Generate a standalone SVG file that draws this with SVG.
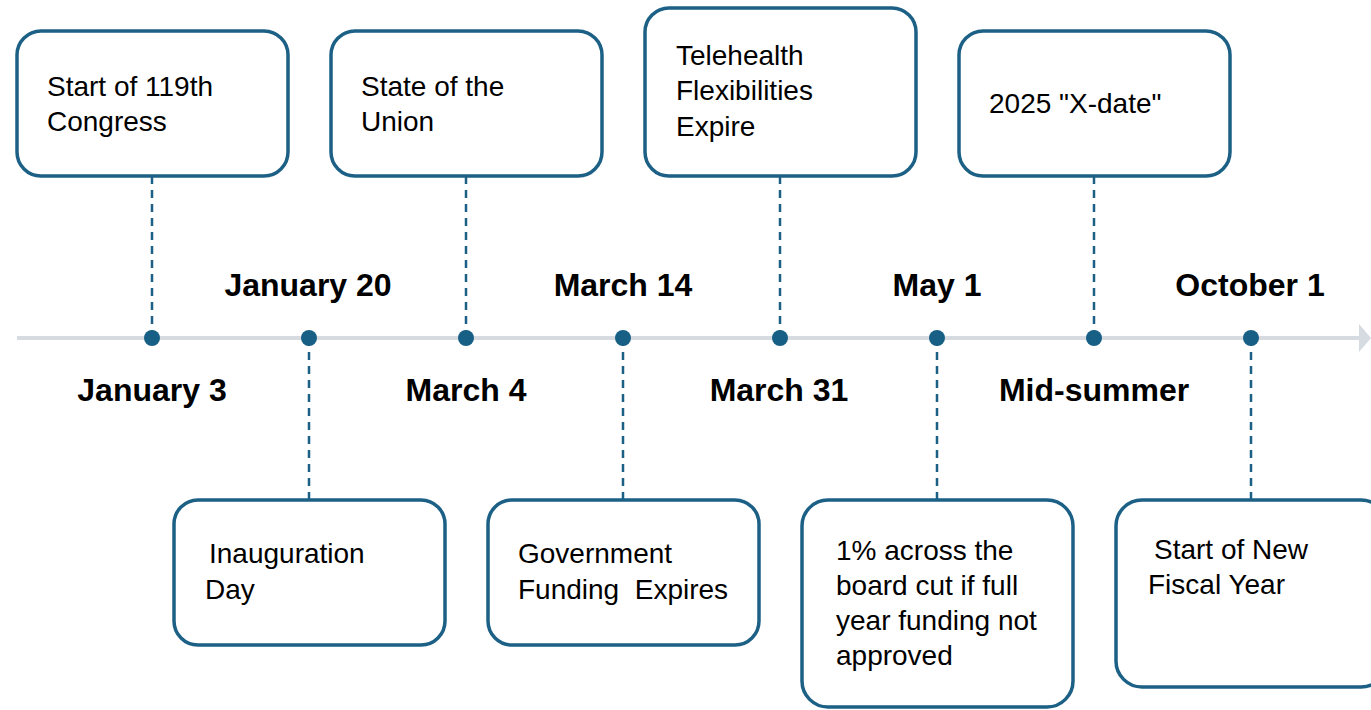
<svg xmlns="http://www.w3.org/2000/svg" width="1371" height="710" viewBox="0 0 1371 710">
<style>
.box{fill:#fff;stroke:#1d6086;stroke-width:3.5}
.dash{stroke:#1d6086;stroke-width:2.5;stroke-dasharray:8 6;fill:none}
.dot{fill:#185f85}
.t{font-family:"Liberation Sans",Arial,sans-serif;font-size:28px;fill:#000}
.d{font-family:"Liberation Sans",Arial,sans-serif;font-size:32px;font-weight:bold;fill:#000;text-anchor:middle}
</style>
<rect width="1371" height="710" fill="#fff"/>
<g id="connectors">
<line x1="17" y1="338" x2="1360" y2="338" stroke="#d5dbe1" stroke-width="4"/>
<polygon points="1359,324 1371,338 1359,352" fill="#d5dbe1"/>
<line class="dash" x1="152" y1="176" x2="152" y2="338"/>
<line class="dash" x1="309" y1="338" x2="309" y2="500"/>
<line class="dash" x1="466" y1="176" x2="466" y2="338"/>
<line class="dash" x1="623" y1="338" x2="623" y2="500"/>
<line class="dash" x1="780" y1="176" x2="780" y2="338"/>
<line class="dash" x1="937" y1="338" x2="937" y2="500"/>
<line class="dash" x1="1094" y1="176" x2="1094" y2="338"/>
<line class="dash" x1="1251" y1="338" x2="1251" y2="500"/>
<circle class="dot" cx="152" cy="338" r="8"/>
<circle class="dot" cx="309" cy="338" r="8"/>
<circle class="dot" cx="466" cy="338" r="8"/>
<circle class="dot" cx="623" cy="338" r="8"/>
<circle class="dot" cx="780" cy="338" r="8"/>
<circle class="dot" cx="937" cy="338" r="8"/>
<circle class="dot" cx="1094" cy="338" r="8"/>
<circle class="dot" cx="1251" cy="338" r="8"/>
</g>
<g id="dates">
<text class="d" x="308" y="296">January 20</text>
<text class="d" x="623" y="296">March 14</text>
<text class="d" x="937" y="296">May 1</text>
<text class="d" x="1250" y="296">October 1</text>
<text class="d" x="152" y="401">January 3</text>
<text class="d" x="466" y="401">March 4</text>
<text class="d" x="779" y="401">March 31</text>
<text class="d" x="1094" y="401">Mid-summer</text>
</g>
<g id="n1"><rect class="box" x="17" y="31" width="271" height="145" rx="24"/>
<text class="t" x="47" y="96">Start of 119th</text><text class="t" x="47" y="131">Congress</text></g>
<g id="n2"><rect class="box" x="331" y="31" width="271" height="145" rx="24"/>
<text class="t" x="361" y="96">State of the</text><text class="t" x="361" y="131">Union</text></g>
<g id="n3"><rect class="box" x="645" y="8" width="271" height="168" rx="24"/>
<text class="t" x="676" y="65">Telehealth</text><text class="t" x="676" y="100">Flexibilities</text><text class="t" x="676" y="136">Expire</text></g>
<g id="n4"><rect class="box" x="959" y="31" width="271" height="145" rx="24"/>
<text class="t" x="989" y="113">2025 "X-date"</text></g>
<g id="n5"><rect class="box" x="174" y="500" width="271" height="145" rx="24"/>
<text class="t" x="209" y="563">Inauguration</text><text class="t" x="205" y="599">Day</text></g>
<g id="n6"><rect class="box" x="488" y="500" width="271" height="145" rx="24"/>
<text class="t" x="518" y="563">Government</text><text class="t" x="518" y="599" xml:space="preserve">Funding  Expires</text></g>
<g id="n7"><rect class="box" x="802" y="500" width="271" height="207" rx="26"/>
<text class="t" x="836" y="560">1% across the</text><text class="t" x="836" y="595">board cut if full</text><text class="t" x="836" y="630">year funding not</text><text class="t" x="836" y="665">approved</text></g>
<g id="n8"><rect class="box" x="1116" y="500" width="271" height="187" rx="26"/>
<text class="t" x="1154" y="559">Start of New</text><text class="t" x="1148" y="594">Fiscal Year</text></g>
</svg>
